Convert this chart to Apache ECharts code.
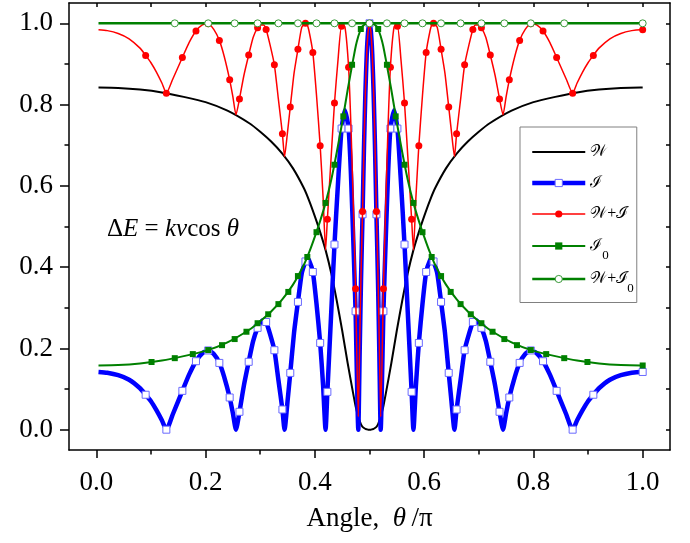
<!DOCTYPE html>
<html>
<head>
<meta charset="utf-8">
<script src="https://cdn.jsdelivr.net/npm/echarts@6/dist/echarts.min.js"></script>
<style>
html, body { margin: 0; padding: 0; background: #fff; }
#chart { width: 690px; height: 543px; }
</style>
</head>
<body>
<div id="chart"></div>
<script>
// Angle θ/π of the finely sampled interference curves (ℐ and 𝒲+ℐ)
const angleFine = [
  0.004, 0.02, 0.04, 0.06, 0.08, 0.0903, 0.10, 0.11, 0.12, 0.1282,
  0.14, 0.1575, 0.17, 0.1824, 0.194, 0.2048, 0.215, 0.2252, 0.234, 0.2441, 0.25, 0.2556,
  0.262, 0.27, 0.2789, 0.287, 0.2952, 0.302, 0.306, 0.3108, 0.318, 0.3259, 0.333, 0.3406, 0.3445,
  0.35, 0.355, 0.362, 0.369, 0.376, 0.3828, 0.3857, 0.389, 0.3963, 0.403, 0.4097, 0.415, 0.4196,
  0.4229, 0.43, 0.4359, 0.4425, 0.4489, 0.455, 0.4617, 0.466, 0.4705, 0.4745, 0.4795,
  0.482, 0.4845, 0.4873, 0.49, 0.4925, 0.495, 0.4975, 0.5,
  0.5025, 0.505, 0.5075, 0.51, 0.5127, 0.5155, 0.518, 0.5205,
  0.5255, 0.5295, 0.534, 0.5383, 0.545, 0.5511, 0.5575, 0.5641, 0.57, 0.5771,
  0.5804, 0.585, 0.5903, 0.597, 0.6037, 0.611, 0.6143, 0.6172, 0.624, 0.631, 0.638, 0.645, 0.65,
  0.6555, 0.6594, 0.667, 0.6741, 0.682, 0.6892, 0.694, 0.698, 0.7048, 0.713, 0.7211, 0.73, 0.738,
  0.7444, 0.75, 0.7559, 0.766, 0.7748, 0.785, 0.7952, 0.806, 0.8176, 0.83, 0.8425, 0.86,
  0.8718, 0.88, 0.89, 0.90, 0.9097, 0.92, 0.94, 0.96, 0.98, 0.996, 1.0
];
// ℐ : interference term
const intensityI = [
  0.142, 0.140, 0.134, 0.123, 0.102, 0.086, 0.070, 0.048, 0.023, 0,
  0.038, 0.0955, 0.136, 0.1685, 0.188, 0.195, 0.186, 0.1643, 0.13, 0.0792, 0.04, 0,
  0.044, 0.108, 0.167, 0.218, 0.2505, 0.266, 0.270, 0.265, 0.235, 0.1956, 0.125, 0.0497, 0,
  0.07, 0.1397, 0.24, 0.3144, 0.385, 0.414, 0.421, 0.418, 0.388, 0.31, 0.2135, 0.11, 0,
  0.093, 0.29, 0.4556, 0.61, 0.741, 0.786, 0.741, 0.63, 0.46, 0.2915, 0,
  0.19, 0.37, 0.53, 0.70, 0.83, 0.925, 0.98, 1.0,
  0.98, 0.925, 0.83, 0.70, 0.53, 0.37, 0.19, 0,
  0.2915, 0.46, 0.63, 0.741, 0.786, 0.741, 0.61, 0.4556, 0.29, 0.093,
  0, 0.11, 0.2135, 0.31, 0.388, 0.418, 0.421, 0.414, 0.385, 0.3144, 0.24, 0.1397, 0.07,
  0, 0.0497, 0.125, 0.1956, 0.235, 0.265, 0.270, 0.266, 0.2505, 0.218, 0.167, 0.108, 0.044,
  0, 0.04, 0.0792, 0.13, 0.1643, 0.186, 0.195, 0.188, 0.1685, 0.136, 0.0955, 0.038,
  0, 0.023, 0.048, 0.070, 0.086, 0.102, 0.123, 0.134, 0.140, 0.142, 0.142
];
// 𝒲+ℐ : total
const intensityWI = [
  0.984, 0.982, 0.975, 0.962, 0.939, 0.921, 0.903, 0.880, 0.853, 0.828,
  0.863, 0.916, 0.953, 0.981, 0.996, 0.999, 0.985, 0.958, 0.919, 0.861, 0.819, 0.775,
  0.814, 0.871, 0.922, 0.965, 0.989, 0.996, 0.996, 0.985, 0.947, 0.898, 0.816, 0.728, 0.672,
  0.733, 0.794, 0.878, 0.936, 0.990, 1.0, 0.997, 0.983, 0.928, 0.823, 0.699, 0.573, 0.442,
  0.518, 0.675, 0.804, 0.912, 0.993, 0.991, 0.892, 0.748, 0.547, 0.347, 0.032,
  0.212, 0.383, 0.537, 0.704, 0.832, 0.926, 0.98, 1.0,
  0.98, 0.926, 0.832, 0.704, 0.537, 0.383, 0.212, 0.032,
  0.347, 0.547, 0.748, 0.892, 0.991, 0.993, 0.912, 0.804, 0.675, 0.518,
  0.442, 0.573, 0.699, 0.823, 0.928, 0.983, 0.997, 1.0, 0.990, 0.936, 0.878, 0.794, 0.733,
  0.672, 0.728, 0.816, 0.898, 0.947, 0.985, 0.996, 0.996, 0.989, 0.965, 0.922, 0.871, 0.814,
  0.775, 0.819, 0.861, 0.919, 0.958, 0.985, 0.999, 0.996, 0.981, 0.953, 0.916, 0.863,
  0.828, 0.853, 0.880, 0.903, 0.921, 0.939, 0.962, 0.975, 0.982, 0.984, 0.984
];

// Angle θ/π of the smooth curves (𝒲 and ℐ0)
const angleCoarse = [
  0.004, 0.04, 0.08, 0.12, 0.16, 0.20, 0.24, 0.28, 0.30, 0.32, 0.34, 0.36, 0.38, 0.39, 0.40, 0.41,
  0.42, 0.43, 0.44, 0.45, 0.46, 0.47, 0.475, 0.4795, 0.482, 0.4845, 0.4873, 0.49, 0.4925, 0.495, 0.4975, 0.5,
  0.5025, 0.505, 0.5075, 0.51, 0.5127, 0.5155, 0.518, 0.5205, 0.525, 0.53, 0.54, 0.55, 0.56, 0.57, 0.58, 0.59,
  0.60, 0.61, 0.62, 0.64, 0.66, 0.68, 0.70, 0.72, 0.76, 0.80, 0.84, 0.88, 0.92, 0.96, 0.996, 1.0
];
const intensityW = [
  0.842, 0.841, 0.837, 0.830, 0.819, 0.806, 0.785, 0.754, 0.733, 0.709, 0.680, 0.643, 0.594, 0.562, 0.525, 0.485,
  0.440, 0.385, 0.318, 0.244, 0.164, 0.090, 0.055, 0.032, 0.022, 0.013, 0.007, 0.004, 0.002, 0.001, 0, 0,
  0, 0.001, 0.002, 0.004, 0.007, 0.013, 0.022, 0.032, 0.055, 0.090, 0.164, 0.244, 0.318, 0.385, 0.440, 0.485,
  0.525, 0.562, 0.594, 0.643, 0.680, 0.709, 0.733, 0.754, 0.785, 0.806, 0.819, 0.830, 0.837, 0.841, 0.842, 0.842
];
const intensityI0 = [
  0.158, 0.159, 0.163, 0.170, 0.181, 0.194, 0.215, 0.246, 0.267, 0.291, 0.320, 0.357, 0.406, 0.438, 0.475, 0.515,
  0.560, 0.615, 0.682, 0.756, 0.836, 0.910, 0.945, 0.968, 0.978, 0.987, 0.993, 0.996, 0.998, 0.999, 1.0, 1.0,
  1.0, 0.999, 0.998, 0.996, 0.993, 0.987, 0.978, 0.968, 0.945, 0.910, 0.836, 0.756, 0.682, 0.615, 0.560, 0.515,
  0.475, 0.438, 0.406, 0.357, 0.320, 0.291, 0.267, 0.246, 0.215, 0.194, 0.181, 0.170, 0.163, 0.159, 0.158, 0.158
];
// 𝒲+ℐ0
const angleSum = [0.004, 0.5, 1.0];
const intensityWI0 = [1.0, 1.0, 1.0];

// Marked samples: every 0.04 in cosθ (ℐ, 𝒲+ℐ)
const markAngle4 = [
  0.0903, 0.1282, 0.1575, 0.1824, 0.2048, 0.2252, 0.2441, 0.2620, 0.2789, 0.2952, 0.3108, 0.3259,
  0.3406, 0.3550, 0.3690, 0.3828, 0.3963, 0.4097, 0.4229, 0.4359, 0.4489, 0.4617, 0.4745, 0.4873, 0.5,
  0.5127, 0.5255, 0.5383, 0.5511, 0.5641, 0.5771, 0.5903, 0.6037, 0.6172, 0.6310, 0.6450, 0.6594,
  0.6741, 0.6892, 0.7048, 0.7211, 0.7380, 0.7559, 0.7748, 0.7952, 0.8176, 0.8425, 0.8718, 0.9097, 1.0
];
const markI = [
  0.086, 0, 0.0955, 0.1685, 0.195, 0.1643, 0.0792, 0.044, 0.167, 0.2505, 0.265, 0.1956,
  0.0497, 0.1397, 0.3144, 0.414, 0.388, 0.2135, 0.093, 0.4556, 0.741, 0.741, 0.2915, 0.53, 1.0,
  0.53, 0.2915, 0.741, 0.741, 0.4556, 0.093, 0.2135, 0.388, 0.414, 0.3144, 0.1397, 0.0497,
  0.1956, 0.265, 0.2505, 0.167, 0.044, 0.0792, 0.1643, 0.195, 0.1685, 0.0955, 0, 0.086, 0.142
];
const markWI = [
  0.921, 0.828, 0.916, 0.981, 0.999, 0.958, 0.861, 0.814, 0.922, 0.989, 0.985, 0.898,
  0.728, 0.794, 0.936, 1.0, 0.928, 0.699, 0.518, 0.804, 0.993, 0.892, 0.347, 0.537, 1.0,
  0.537, 0.347, 0.892, 0.993, 0.804, 0.518, 0.699, 0.928, 1.0, 0.936, 0.794, 0.728,
  0.898, 0.985, 0.989, 0.922, 0.814, 0.861, 0.958, 0.999, 0.981, 0.916, 0.828, 0.921, 0.984
];
// Marked samples: every 0.05 in cosθ (ℐ0)
const markAngle5 = [
  0.1011, 0.1436, 0.1766, 0.2048, 0.2301, 0.2532, 0.2748, 0.2952, 0.3146, 0.3333, 0.3514, 0.3690,
  0.3862, 0.4030, 0.4196, 0.4359, 0.4521, 0.4681, 0.4841, 0.5,
  0.5159, 0.5319, 0.5479, 0.5641, 0.5804, 0.5970, 0.6138, 0.6310, 0.6486, 0.6667, 0.6854, 0.7048,
  0.7252, 0.7468, 0.7699, 0.7952, 0.8234, 0.8564, 0.8989, 1.0
];
const markI0 = [
  0.1665, 0.176, 0.186, 0.196, 0.208, 0.223, 0.241, 0.262, 0.284, 0.309, 0.339, 0.378,
  0.425, 0.486, 0.558, 0.652, 0.771, 0.898, 0.986, 1.0,
  0.986, 0.898, 0.771, 0.652, 0.558, 0.486, 0.425, 0.378, 0.339, 0.309, 0.284, 0.262,
  0.241, 0.223, 0.208, 0.196, 0.186, 0.176, 0.1665, 0.158
];
// Marked samples: every 0.1 in cosθ (𝒲+ℐ0)
const markAngle10 = [
  0.1436, 0.2048, 0.2532, 0.2952, 0.3333, 0.3690, 0.4030, 0.4359, 0.4681, 0.5,
  0.5319, 0.5641, 0.5970, 0.6310, 0.6667, 0.7048, 0.7468, 0.7952, 0.8564, 1.0
];
const markWI0 = [1.0, 1.0, 1.0, 1.0, 1.0, 1.0, 1.0, 1.0, 1.0, 1.0, 1.0, 1.0, 1.0, 1.0, 1.0, 1.0, 1.0, 1.0, 1.0, 1.0];

// Axis ticks
const xTicks = [0, 0.2, 0.4, 0.6, 0.8, 1.0];
const xMinorTicks = [0.1, 0.3, 0.5, 0.7, 0.9];
const yTicks = [0, 0.2, 0.4, 0.6, 0.8, 1.0];
const yMinorTicks = [0.1, 0.3, 0.5, 0.7, 0.9];

// Legend entries
const legendLabels = {
  'W': '{s|𝒲}',
  'I': '{s|ℐ}',
  'W+I': '{s|𝒲+ℐ}',
  'I0': '{s|ℐ}{b|0}',
  'W+I0': '{s|𝒲+ℐ}{b|0}'
};

const serif = '"Liberation Serif", "Times New Roman", Times, serif';
const frame = { color: '#000', width: 1.5 };
const pairs = (xs, ys) => xs.map((x, i) => [x, ys[i]]);
const tenths = xTicks.concat(xMinorTicks).sort((a, b) => a - b);

function axis(extra) {
  return Object.assign({
    type: 'value', min: -0.05, max: 1.05,
    axisLine: { show: false, onZero: false },
    axisTick: { show: false },
    axisLabel: { show: false },
    splitLine: { show: false }
  }, extra);
}

const tickFont = { fontFamily: serif, fontSize: 27, color: '#000' };
const blueMark = { color: '#fff', borderColor: '#6a6aff', borderWidth: 1, opacity: 1 };
const openCircle = { color: '#fff', borderColor: '#3a9a3a', borderWidth: 1, opacity: 1 };

const chart = echarts.init(document.getElementById('chart'));
chart.setOption({
  animation: false,
  backgroundColor: '#fff',
  grid: { left: 69, right: 20, top: 3, bottom: 93, outerBoundsMode: 'none' },
  xAxis: [
    axis({
      position: 'bottom',
      axisLine: { show: true, onZero: false, lineStyle: frame },
      axisTick: { show: true, length: 8, customValues: xTicks, lineStyle: frame },
      axisLabel: Object.assign({ show: true, customValues: xTicks, margin: 19,
        formatter: v => v.toFixed(1) }, tickFont),
      name: 'Angle,\u2002{i|θ}\u2009/π',
      nameLocation: 'middle',
      nameGap: 55,
      nameTextStyle: {
        fontFamily: serif, fontSize: 27, color: '#000',
        rich: { i: { fontFamily: serif, fontStyle: 'italic', fontSize: 27, color: '#000' } }
      }
    }),
    axis({ position: 'bottom',
      axisTick: { show: true, length: 4.5, customValues: xMinorTicks, lineStyle: frame } }),
    axis({ position: 'top',
      axisLine: { show: true, onZero: false, lineStyle: frame },
      axisTick: { show: true, inside: true, length: 4, customValues: tenths, lineStyle: frame } })
  ],
  yAxis: [
    axis({
      position: 'left',
      axisLine: { show: true, onZero: false, lineStyle: frame },
      axisTick: { show: true, length: 9, customValues: yTicks, lineStyle: frame },
      axisLabel: Object.assign({ show: true, customValues: yTicks, margin: 16,
        formatter: v => v.toFixed(1) }, tickFont)
    }),
    axis({ position: 'left',
      axisTick: { show: true, length: 4.5, customValues: yMinorTicks, lineStyle: frame } }),
    axis({ position: 'right',
      axisLine: { show: true, onZero: false, lineStyle: frame },
      axisTick: { show: true, inside: true, length: 4, customValues: tenths, lineStyle: frame } })
  ],
  legend: {
    orient: 'vertical',
    left: 520, top: 127,
    itemWidth: 53, itemHeight: 9, itemGap: 0,
    padding: [9.5, 3, 7, 10],
    borderColor: '#808080', borderWidth: 1, backgroundColor: '#fff',
    lineStyle: { width: 'inherit' },
    itemStyle: { borderWidth: 1 },
    data: [{ name: 'W', itemStyle: { opacity: 0 } }, 'I', 'W+I', 'I0', 'W+I0'],
    formatter: name => legendLabels[name],
    selectedMode: false,
    textStyle: {
      fontFamily: serif, fontSize: 16, color: '#000', lineHeight: 31,
      rich: {
        s: { fontFamily: serif, fontSize: 16, color: '#000', lineHeight: 31 },
        b: { fontFamily: serif, fontSize: 13, color: '#000', lineHeight: 16, padding: [20, 0, 0, 0] }
      }
    }
  },
  graphic: [{
    type: 'text', left: 107, top: 217, silent: true,
    style: {
      text: '{n|Δ}{i|E}{n| = }{i|kv}{n|cos}{i| θ}',
      rich: {
        n: { fontFamily: serif, fontSize: 25, fill: '#000' },
        i: { fontFamily: serif, fontStyle: 'italic', fontSize: 25, fill: '#000' }
      }
    }
  }],
  series: [
    { name: 'W', type: 'line', z: 2, data: pairs(angleCoarse, intensityW), smooth: 0.2,
      showSymbol: false, symbol: 'circle', silent: true,
      lineStyle: { color: '#000', width: 2 }, itemStyle: { color: '#000' } },

    { name: 'I', type: 'line', z: 3, data: pairs(angleFine, intensityI), smooth: 0.2,
      showSymbol: false, symbol: 'rect', silent: true,
      lineStyle: { color: '#0000ff', width: 4.5 }, itemStyle: blueMark },
    { name: 'I', type: 'scatter', z: 4, data: pairs(markAngle4, markI), symbol: 'rect', symbolSize: 7,
      silent: true, itemStyle: blueMark },

    { name: 'W+I', type: 'line', z: 5, data: pairs(angleFine, intensityWI), smooth: 0.2,
      showSymbol: false, symbol: 'circle', silent: true,
      lineStyle: { color: '#ff0000', width: 1.5 }, itemStyle: { color: '#ff0000' } },
    { name: 'W+I', type: 'scatter', z: 6, data: pairs(markAngle4, markWI), symbol: 'circle', symbolSize: 7,
      silent: true, itemStyle: { color: '#ff0000', opacity: 1 } },

    { name: 'I0', type: 'line', z: 7, data: pairs(angleCoarse, intensityI0), smooth: 0.2,
      showSymbol: false, symbol: 'rect', silent: true,
      lineStyle: { color: '#008000', width: 2 }, itemStyle: { color: '#008000' } },
    { name: 'I0', type: 'scatter', z: 8, data: pairs(markAngle5, markI0), symbol: 'rect', symbolSize: 6,
      silent: true, itemStyle: { color: '#008000', opacity: 1 } },

    { name: 'W+I0', type: 'line', z: 9, data: pairs(angleSum, intensityWI0),
      showSymbol: false, symbol: 'circle', silent: true,
      lineStyle: { color: '#008000', width: 2.5 }, itemStyle: openCircle },
    { name: 'W+I0', type: 'scatter', z: 10, data: pairs(markAngle10, markWI0), symbol: 'circle', symbolSize: 7,
      silent: true, itemStyle: openCircle }
  ]
});
</script>
</body>
</html>
